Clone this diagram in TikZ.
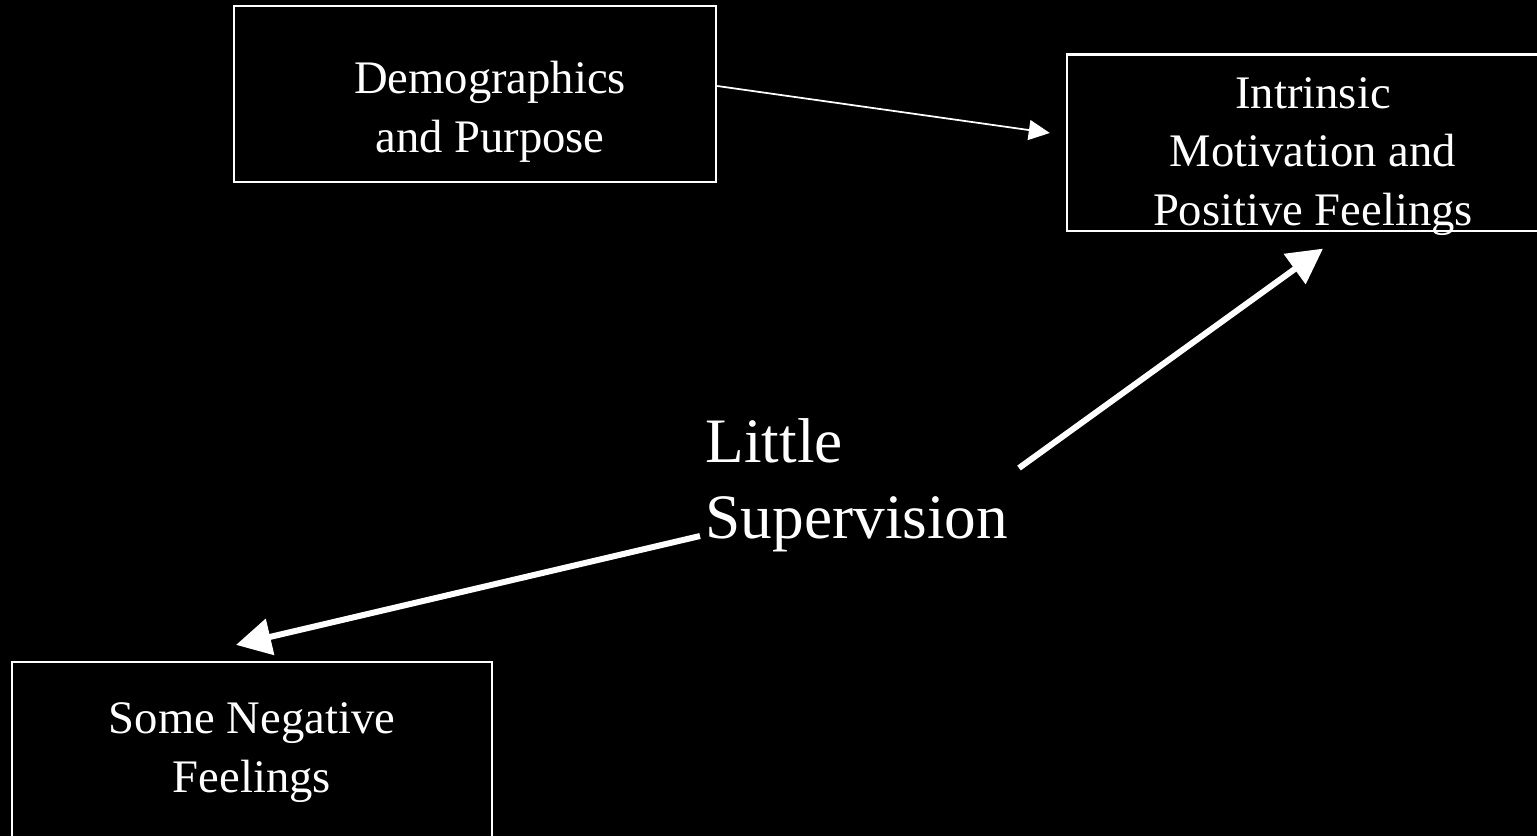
\documentclass[tikz,border=0pt]{standalone}
\usepackage{fontspec}
\setmainfont{Liberation Serif}
\usepackage{tikz}
\usetikzlibrary{arrows.meta, positioning, calc}

\begin{document}
\begin{tikzpicture}[x=0.01cm, y=-0.01cm,
        box/.style={draw=white, line width=0.6pt, minimum width=4.82cm, minimum height=1.76cm, inner sep=0pt},
        boxtext/.style={text=white, align=center, anchor=base, inner sep=0pt, font=\fontsize{13.26}{16.5}\selectfont},
        thinarrow/.style={draw=white, line width=0.5pt, -{Triangle[length=0.21cm, width=0.2cm]}},
        thickarrow/.style={draw=white, line width=0.06cm, -{Triangle[length=0.35cm, width=0.36cm]}}]
    \useasboundingbox (0,0) rectangle (1537,836);
    \fill[black] (0,0) rectangle (1537,836);
    \clip (0,0) rectangle (1537,836);

    % Boxes
    \node[box] (demo) at (475,94) {};
    \node[box] (intr) at (1308,142.5) {};
    \node[box, minimum width=4.8cm, minimum height=1.8cm] (neg) at (252,752) {};

    % Texts (base = last line)
    \node[boxtext] (demotext) at (490,152) {Demographics\\and Purpose};
    \node[boxtext] (intrtext) at (1313,225) {Intrinsic\\Motivation and\\Positive Feelings};
    \node[boxtext] (negtext) at (252,792) {Some Negative\\Feelings};
    \node[text=white, align=left, anchor=base west, inner sep=0pt, font=\fontsize{18}{21.6}\selectfont] (sup) at (705,538) {Little\\Supervision};

    % Arrow ends at the label
    \coordinate (supR) at (1019,468);
    \coordinate (supL) at (700,536);

    % Arrows
    \draw[thinarrow] ([yshift=0.08cm]demo.east) -- ([xshift=-0.16cm, yshift=0.095cm]intr.west);
    \draw[thickarrow] (supR) -- ([xshift=0.15cm, yshift=-0.17cm]intr.south);
    \draw[thickarrow] (supL) -- ([xshift=-0.16cm, yshift=0.16cm]neg.north);
\end{tikzpicture}
\end{document}
